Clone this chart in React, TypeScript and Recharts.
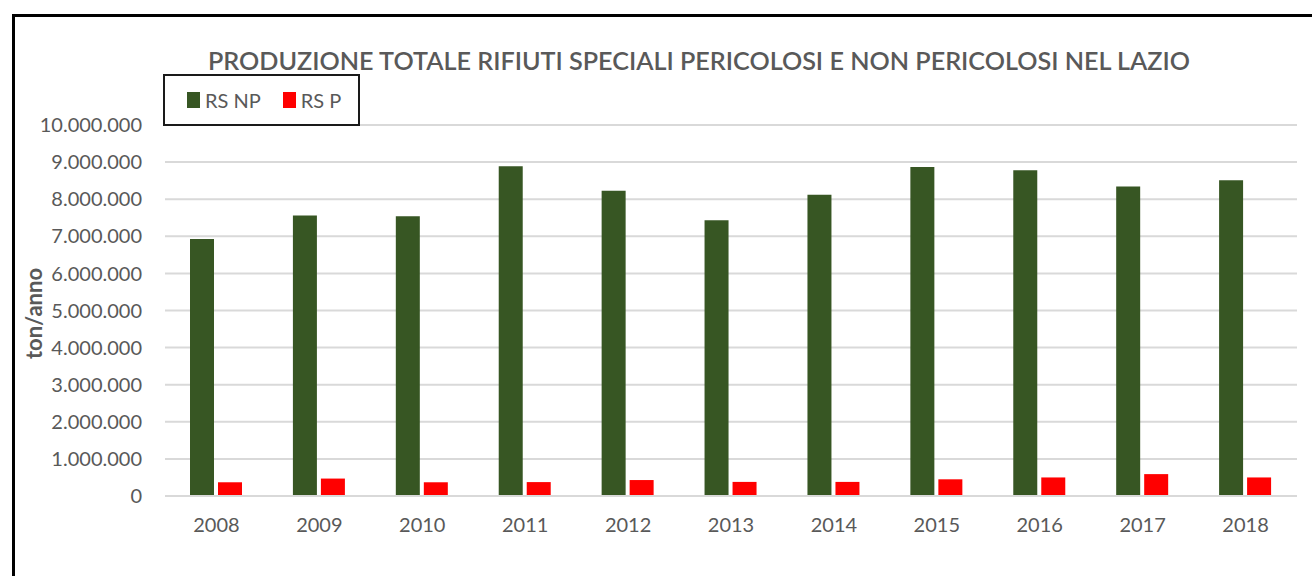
import { BarChart, Bar, XAxis, YAxis, CartesianGrid, Legend } from 'recharts';

const years = ['2008', '2009', '2010', '2011', '2012', '2013', '2014', '2015', '2016', '2017', '2018'];
const rsNP = [6930000, 7560000, 7540000, 8890000, 8230000, 7430000, 8120000, 8870000, 8780000, 8340000, 8510000];
const rsP = [370000, 470000, 370000, 375000, 430000, 380000, 380000, 450000, 500000, 590000, 500000];
const yTicks = [0, 1000000, 2000000, 3000000, 4000000, 5000000, 6000000, 7000000, 8000000, 9000000, 10000000];

const title = 'PRODUZIONE TOTALE RIFIUTI SPECIALI PERICOLOSI E NON PERICOLOSI NEL LAZIO';

const data = years.map((year, i) => ({ year, np: rsNP[i], p: rsP[i] }));

const GREEN = '#375623';
const RED = '#ff0000';
const GREY = '#595959';
const FONT = 'Lato, "Open Sans", sans-serif';

const fmt = (v: number) => String(v).replace(/\B(?=(\d{3})+(?!\d))/g, '.');

const LegendBox = ({ payload }: any) => (
  <div
    style={{
      boxSizing: 'border-box',
      width: 197,
      height: 52,
      border: '2px solid #1a1a1a',
      display: 'flex',
      alignItems: 'center',
      paddingLeft: 22,
      fontFamily: FONT,
      fontSize: 20,
      color: GREY,
      whiteSpace: 'nowrap',
    }}
  >
    {(payload || []).map((item: any) => (
      <div key={item.value} style={{ display: 'flex', alignItems: 'center', marginRight: 22 }}>
        <span style={{ display: 'inline-block', width: 13, height: 16, background: item.color, marginRight: 5 }} />
        <span>{item.value}</span>
      </div>
    ))}
  </div>
);

const AxisTitle = ({ viewBox }: any) => {
  const cy = viewBox.y + viewBox.height / 2 + 3;
  return (
    <text
      x={33}
      y={cy}
      transform={`rotate(-90, 33, ${cy})`}
      textAnchor="middle"
      dominantBaseline="central"
      fill={GREY}
      fontFamily={FONT}
      fontSize={22}
      fontWeight={700}
    >
      ton/anno
    </text>
  );
};

export default function App() {
  return (
    <div
      style={{
        position: 'absolute',
        left: 0,
        top: 0,
        width: 1312,
        height: 576,
        overflow: 'hidden',
        background: '#fff',
      }}
    >
      <div
        style={{
          position: 'absolute',
          left: 12,
          top: 14,
          width: 1400,
          height: 700,
          border: '3px solid #000',
        }}
      />
      <svg width={1312} height={100} style={{ position: 'absolute', left: 0, top: 0 }}>
        <text
          x={699}
          y={60}
          textAnchor="middle"
          dominantBaseline="central"
          fill={GREY}
          fontFamily={FONT}
          fontSize={24}
          fontWeight={600}
          textLength={982}
          lengthAdjust="spacingAndGlyphs"
        >
          {title}
        </text>
      </svg>
      <div style={{ position: 'absolute', left: 0, top: 0 }}>
        <BarChart
          width={1312}
          height={576}
          data={data}
          margin={{ top: 125, right: 15, bottom: 50, left: 0 }}
          barSize={24}
          barGap={4}
        >
          <CartesianGrid vertical={false} stroke="#d9d9d9" strokeWidth={2} />
          <XAxis
            dataKey="year"
            height={30}
            axisLine={{ stroke: '#d9d9d9', strokeWidth: 2 }}
            tickLine={false}
            tickMargin={16}
            tick={{ fill: GREY, fontFamily: FONT, fontSize: 20 }}
          />
          <YAxis
            width={165}
            domain={[0, 10000000]}
            ticks={yTicks}
            tickFormatter={fmt}
            axisLine={false}
            tickLine={false}
            tickMargin={17}
            tick={{ fill: GREY, fontFamily: FONT, fontSize: 20 }}
            label={{ content: AxisTitle }}
          />
          <Legend
            layout="horizontal"
            verticalAlign="middle"
            align="center"
            content={LegendBox}
            wrapperStyle={{ position: 'absolute', left: 163, top: 74, width: 197, height: 52 }}
          />
          <Bar dataKey="np" name="RS NP" fill={GREEN} isAnimationActive={false} />
          <Bar dataKey="p" name="RS P" fill={RED} isAnimationActive={false} />
        </BarChart>
      </div>
    </div>
  );
}
